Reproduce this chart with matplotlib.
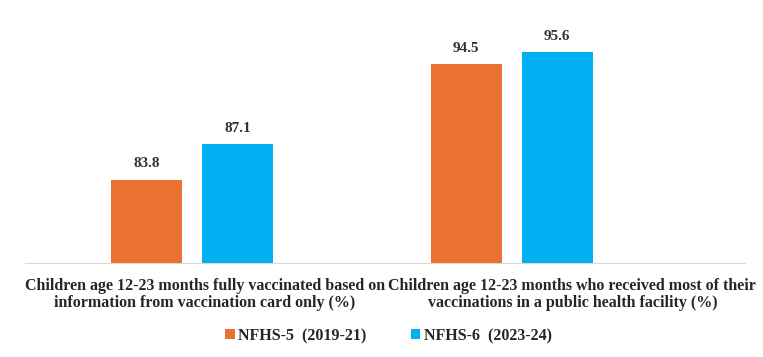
import matplotlib.pyplot as plt
import numpy as np

# data
categories = ['Children age 12-23 months fully vaccinated based on\ninformation from vaccination card only (%)',
              'Children age 12-23 months who received most of their\nvaccinations in a public health facility (%)']
series_names = ['NFHS-5  (2019-21)', 'NFHS-6  (2023-24)']
nfhs5 = [83.8, 94.5]
nfhs6 = [87.1, 95.6]
colors = ['#E97132', '#00B0F0']

plt.rcParams['font.family'] = ['Liberation Serif', 'DejaVu Serif']
plt.rcParams['font.weight'] = 'bold'

fig = plt.figure(figsize=(7.63, 3.57), dpi=100)
ax = fig.add_axes([25 / 763, 1 - 263 / 357, 720 / 763, 258 / 357])

x = np.arange(len(categories))
width = 0.222
offset = 0.142

for vals, xs, color, name in zip([nfhs5, nfhs6], [x - offset, x + offset], colors, series_names):
    bars = ax.bar(xs, vals, width, color=color, label=name)
    for b, v in zip(bars, vals):
        ax.annotate(f'{v}', (b.get_x() + b.get_width() / 2, v), xytext=(0, 7),
                    textcoords='offset points', ha='center', va='bottom',
                    fontsize=11, fontweight='bold', color='#333333')

ax.set_ylim(76.1, 100)
ax.set_xlim(-0.523, 1.730)

# category labels sit a bit right of the bar groups in the original
ax.set_xticks([0.04, 1.19])
ax.set_xticklabels(categories, fontsize=11.5, fontweight='bold', color='#262626', linespacing=1.05)
ax.tick_params(axis='x', length=0, pad=11)
ax.set_yticks([])

for s in ['top', 'right', 'left']:
    ax.spines[s].set_visible(False)
ax.spines['bottom'].set_color('#D9D9D9')

leg = fig.legend(loc='center', bbox_to_anchor=(0.509, 1 - 336 / 357), ncol=2, frameon=False,
                 handlelength=0.6, handleheight=0.6, handletextpad=0.2,
                 columnspacing=2.8, prop={'weight': 'bold', 'size': 11.5})
for t in leg.get_texts():
    t.set_color('#262626')

plt.savefig('out.png', dpi=100)
